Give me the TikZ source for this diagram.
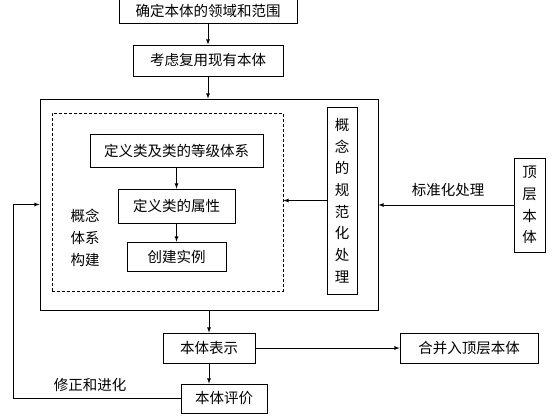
\documentclass[tikz,border=0pt]{standalone}
\usepackage{fontspec}
\setmainfont{Noto Sans CJK SC}
\usetikzlibrary{arrows}

\begin{document}
\begin{tikzpicture}
    [x=1pt,y=-1pt,>=latex,line width=0.8pt,
     every node/.style={inner sep=0pt,font=\fontsize{14.5}{21.7}\selectfont},
     box/.style={draw,rectangle,align=center}]
    \useasboundingbox (0,0) rectangle (553,415);

    \node[box,minimum width=178,minimum height=25] (scope) at (208,10.5) {确定本体的领域和范围};
    \node[box,minimum width=150,minimum height=31] (reuse) at (208,60.5) {考虑复用现有本体};
    \node[box,minimum width=338,minimum height=211] (outer) at (209,204.5) {};
    \node[box,dash pattern=on 3pt off 2pt,minimum width=231,minimum height=178] (inner) at (167.5,202) {};
    \node[box,minimum width=173,minimum height=33] (classes) at (176.5,150.5) {定义类及类的等级体系};
    \node[box,minimum width=117,minimum height=34] (props) at (176.5,206) {定义类的属性};
    \node[box,minimum width=99,minimum height=29] (inst) at (176.5,256.5) {创建实例};
    \node[align=left] (build) at (85,238) {概念\\体系\\构建};
    \node[box,minimum width=30,minimum height=187] (norm) at (342,200.5) {概\\念\\的\\规\\范\\化\\处\\理};
    \node[box,minimum width=31,minimum height=94] (upper) at (529.5,205) {顶\\层\\本\\体};
    \node (std) at (448,190) {标准化处理};
    \node[box,minimum width=92,minimum height=30] (repr) at (209,348) {本体表示};
    \node[box,minimum width=138,minimum height=30] (merge) at (469,348) {合并入顶层本体};
    \node[box,minimum width=86,minimum height=29] (eval) at (224,398.5) {本体评价};
    \node (fix) at (90,385) {修正和进化};
    \coordinate (back) at (13,398.5);

    \draw[->] (scope) -- (reuse);
    \draw[->] (reuse) -- (reuse |- outer.north);
    \draw[->] (classes) -- (props);
    \draw[->] (props) -- (inst);
    \draw[->] (norm.west) -- (inner.east |- norm.west);
    \draw[->] (upper.west) -- (outer.east |- upper.west);
    \draw[->] (outer.south -| repr) -- (repr);
    \draw[->] (repr) -- (merge);
    \draw[->] (repr.south) -- (repr.south |- eval.north);
    \draw[->] (eval.west) -- (back) |- (outer.west);
  \end{tikzpicture}
\end{document}
